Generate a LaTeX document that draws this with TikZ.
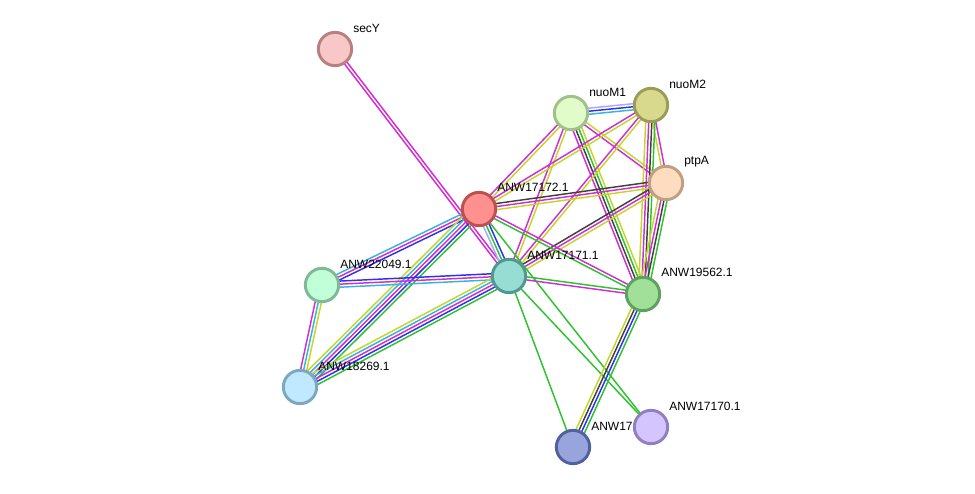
\documentclass[tikz,border=0pt]{standalone}
\usepackage{fontspec}
\setmainfont{Liberation Sans}
\usepackage{tikz}
\usetikzlibrary{calc, backgrounds}
\definecolor{cgrn}{HTML}{2EC22E}
\definecolor{cblue}{HTML}{3030F0}
\definecolor{cblk}{HTML}{404040}
\definecolor{cmag}{HTML}{D22CD2}
\definecolor{ccyan}{HTML}{33B5DC}
\definecolor{cyel}{HTML}{C4D62A}
\definecolor{clav}{HTML}{A8A8FF}
\tikzset{
  prot/.style={circle, line width=2.2pt, minimum size=25pt, inner sep=0pt},
  lbl/.style={anchor=west, font=\fontsize{9}{10}\selectfont, inner sep=0pt},
  link/.style={line width=1.1pt},
}
% parallel evidence lines between two proteins
\newcommand{\bundle}[3]{%
  \foreach \c [count=\n] in {#3} {\xdef\bundlen{\n}}%
  \foreach \c [count=\i] in {#3} {%
    \pgfmathsetmacro\off{(\i-(\bundlen+1)/2)*2.3}%
    \draw[link, \c] ($(#1)!\off pt!90:(#2)$) -- ($(#2)!\off pt!-90:(#1)$);
  }%
}

\begin{document}
\begin{tikzpicture}[x=0.75pt, y=-0.75pt]
  \useasboundingbox (0,0) rectangle (975,493);

  % proteins
  \node[prot, draw={rgb,255:red,184;green,128;blue,128}, fill={rgb,255:red,248;green,200;blue,200}] (secY) at (335,49) {};
  \node[prot, draw={rgb,255:red,160;green,192;blue,140}, fill={rgb,255:red,225;green,252;blue,200}] (nuoM1) at (571,113) {};
  \node[prot, draw={rgb,255:red,156;green,156;blue,88},  fill={rgb,255:red,217;green,217;blue,142}] (nuoM2) at (651,105) {};
  \node[prot, draw={rgb,255:red,192;green,160;blue,128}, fill={rgb,255:red,253;green,220;blue,192}] (ptpA)  at (666,183) {};
  \node[prot, draw={rgb,255:red,192;green,80;blue,80},   fill={rgb,255:red,255;green,144;blue,144}] (n17172) at (479,209) {};
  \node[prot, draw={rgb,255:red,128;green,184;blue,152}, fill={rgb,255:red,192;green,255;blue,216}] (n22049) at (322,285) {};
  \node[prot, draw={rgb,255:red,80;green,152;blue,144},  fill={rgb,255:red,152;green,221;blue,212}] (n17171) at (509,276) {};
  \node[prot, draw={rgb,255:red,96;green,160;blue,96},   fill={rgb,255:red,160;green,224;blue,152}] (n19562) at (643,294) {};
  \node[prot, draw={rgb,255:red,126;green,168;blue,192}, fill={rgb,255:red,192;green,232;blue,255}] (n18269) at (300,387) {};
  \node[prot, draw={rgb,255:red,80;green,96;blue,160},   fill={rgb,255:red,152;green,164;blue,220}] (n17169) at (573,447) {};
  \node[lbl] (l17169) at (591,426) {ANW17};
  \node[prot, draw={rgb,255:red,144;green,128;blue,192}, fill={rgb,255:red,212;green,196;blue,255}] (n17170) at (651,427) {};

  % labels
  \node[lbl] (lsecY)   at (353,28)  {secY};
  \node[lbl] (lnuoM1)  at (589,92)  {nuoM1};
  \node[lbl] (lnuoM2)  at (669,84)  {nuoM2};
  \node[lbl] (lptpA)   at (684,162) {ptpA};
  \node[lbl] (l17172)  at (497,187) {ANW17172.1};
  \node[lbl] (l22049)  at (340,264) {ANW22049.1};
  \node[lbl] (l17171)  at (527,255) {ANW17171.1};
  \node[lbl] (l19562)  at (661,272) {ANW19562.1};
  \node[lbl] (l18269)  at (318,366) {ANW18269.1};
  \node[lbl] (l17170)  at (669,406) {ANW17170.1};

  % edges
  \begin{scope}[on background layer]
    \bundle{secY}{n17171}{cmag, cmag}
    \bundle{nuoM1}{nuoM2}{ccyan, cblue, clav}
    \bundle{nuoM1}{ptpA}{cmag, cyel}
    \bundle{nuoM1}{n19562}{cmag, cblk, cgrn, cyel}
    \bundle{nuoM1}{n17172}{cmag, cyel}
    \bundle{nuoM1}{n17171}{cmag, cyel}
    \bundle{nuoM2}{n17172}{cmag, cyel}
    \bundle{nuoM2}{n17171}{cmag, cyel}
    \bundle{nuoM2}{ptpA}{cyel, cmag}
    \bundle{nuoM2}{n19562}{cyel, cmag, cblk, cgrn}
    \bundle{ptpA}{n17172}{cblk, cmag, cyel}
    \bundle{ptpA}{n17171}{cblk, cmag, cyel}
    \bundle{ptpA}{n19562}{cyel, cmag, cblk, cgrn}
    \bundle{n17172}{n22049}{ccyan, cmag, cblue}
    \bundle{n17172}{n18269}{cyel, ccyan, cmag, cblue, cgrn}
    \bundle{n17172}{n17171}{clav, cgrn, cblue}
    \bundle{n17172}{n19562}{cgrn, cmag}
    \bundle{n17172}{n17170}{cgrn}
    \bundle{n22049}{n17171}{ccyan, cmag, cblue}
    \bundle{n22049}{n18269}{cmag, ccyan, cyel}
    \bundle{n17171}{n18269}{cyel, ccyan, cmag, cblue, cgrn}
    \bundle{n17171}{n19562}{cmag, cgrn}
    \bundle{n17171}{n17169}{cgrn}
    \bundle{n17171}{n17170}{cgrn}
    \bundle{n19562}{n17169}{cyel, cblk, cblue, cgrn}
  \end{scope}
\end{tikzpicture}
\end{document}
